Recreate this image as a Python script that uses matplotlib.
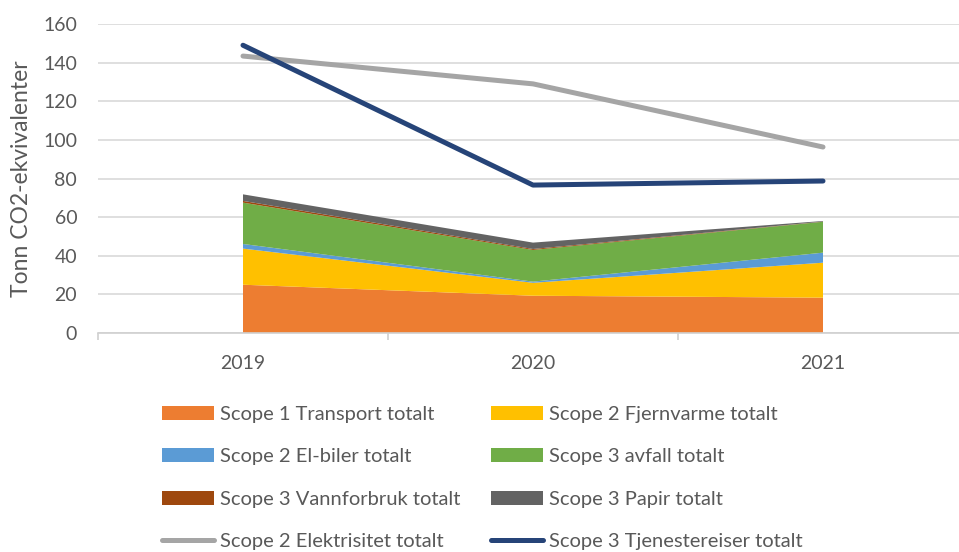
import matplotlib
matplotlib.use("Agg")
from matplotlib import pyplot as plt
import numpy as np

plt.rcParams['font.family'] = ['Lato', 'DejaVu Sans']

years = ["2019", "2020", "2021"]

# stacked areas (tonn CO2-ekv)
transport = [25.0, 19.3, 18.3]
fjernvarme = [18.7, 6.7, 18.1]
el_biler = [2.4, 0.6, 5.2]
avfall = [21.4, 16.4, 16.0]
vannforbruk = [0.9, 0.5, 0.1]
papir = [3.4, 3.3, 0.3]

# lines
elektrisitet = [143.4, 129.0, 96.3]
tjenestereiser = [149.0, 76.6, 78.7]

area_names = ["Scope 1 Transport totalt", "Scope 2 Fjernvarme totalt",
              "Scope 2 El-biler totalt", "Scope 3 avfall totalt",
              "Scope 3 Vannforbruk totalt", "Scope 3 Papir totalt"]
area_colors = ["#ED7D31", "#FFC000", "#5B9BD5", "#70AD47", "#9E480E", "#636363"]

fig = plt.figure(figsize=(9.59, 5.52), dpi=100)
ax = fig.add_axes([98/959, 219/552, 870/959, 309/552])

x = np.arange(len(years))
ax.stackplot(x, transport, fjernvarme, el_biler, avfall, vannforbruk, papir,
             colors=area_colors, labels=area_names, zorder=2)
ax.plot(x, elektrisitet, color="#A5A5A5", lw=3.6, solid_capstyle="round",
        label="Scope 2 Elektrisitet totalt", zorder=3)
ax.plot(x, tjenestereiser, color="#264478", lw=3.6, solid_capstyle="round",
        label="Scope 3 Tjenestereiser totalt", zorder=4)

ax.set_xlim(-0.5, 2.5)
ax.set_ylim(0, 160)
ax.set_yticks(np.arange(0, 161, 20))
ax.yaxis.grid(True, color="#D9D9D9", lw=1.2, zorder=0)
ax.set_axisbelow(True)
for s in ["top", "right", "left"]:
    ax.spines[s].set_visible(False)
ax.spines["bottom"].set_color("#D0D0D0")
ax.spines["bottom"].set_linewidth(1.2)

ax.set_xticks(x)
ax.set_xticklabels(years)
ax.set_xticks([-0.5, 0.5, 1.5, 2.5], minor=True)
ax.tick_params(axis="x", which="major", length=0, pad=16, labelsize=14, labelcolor="#595959")
ax.tick_params(axis="x", which="minor", length=5, color="#D0D0D0", width=1.2)
ax.tick_params(axis="y", length=0, pad=15, labelsize=14, labelcolor="#595959")
ax.set_ylabel("Tonn CO2-ekvivalenter", fontsize=16.5, color="#595959", labelpad=8)

# legend filled row by row like the original
handles, labels = ax.get_legend_handles_labels()
order = [0, 2, 4, 6, 1, 3, 5, 7]
fig.legend([handles[i] for i in order], [labels[i] for i in order], ncol=2,
           loc="upper left", bbox_to_anchor=(144/959, 1 - 388/552),
           frameon=False, fontsize=14.5, labelcolor="#595959", handlelength=2.6,
           handletextpad=0.25, columnspacing=1.55, labelspacing=1.25, handleheight=0.7)

fig.savefig("out.png", dpi=100)
